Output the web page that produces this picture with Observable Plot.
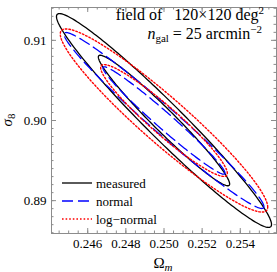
<!DOCTYPE html>
<html><head><meta charset="utf-8">
<script src="https://cdn.jsdelivr.net/npm/d3@7"></script>
<script src="https://cdn.jsdelivr.net/npm/@observablehq/plot@0.6"></script>
<style>body{margin:0;background:#fff}</style>
</head><body><div id="chart"></div>
<script>
// Contour parameters (Fisher-like ellipses)
const distributions = ["measured", "normal", "log-normal"];
const centerOm = [0.2500, 0.2500, 0.2500];
const centerS8 = [0.9000, 0.9000, 0.9000];
const sigmaOm = [0.00227, 0.00211, 0.00219];
const sigmaS8 = [0.00537, 0.00442, 0.00460];
const rho = [-0.972, -0.980, -0.945];
const levels = [2.30, 6.17]; // 68% and 95% contours
const colors = ["#000000", "#0000ff", "#ff0000"];
const dashes = [null, "11,5", "1.6,2"];
const widths = [1.3, 1.3, 1.4];
const xMajor = [0.246, 0.248, 0.250, 0.252, 0.254];
const yMajor = [0.89, 0.90, 0.91];
const xDomain = [0.2441, 0.2559];
const yDomain = [0.8859, 0.9141];

const xMinor = d3.range(0.2445, 0.2559, 0.0005);
const yMinor = d3.range(0.886, 0.9141, 0.001);

const pts = [];
distributions.forEach((name, i) => {
  levels.forEach((L, j) => {
    const k = Math.sqrt(L);
    for (let t = 0; t <= 240; t++) {
      const a = t / 240 * 2 * Math.PI;
      pts.push({
        key: name + j, dist: i,
        om: centerOm[i] + k * sigmaOm[i] * Math.cos(a),
        s8: centerS8[i] + k * sigmaS8[i] * (rho[i] * Math.cos(a) + Math.sqrt(1 - rho[i] * rho[i]) * Math.sin(a))
      });
    }
  });
});

const H = 226, W = 225, gray = "#8c8c8c";
const font = "Liberation Serif";

const marks = [Plot.frame({stroke: gray})];
const tk = (vals, len, dir) => dir === "x"
  ? [Plot.tickX(vals, {x: d => d, insetTop: H - len, stroke: gray}),
     Plot.tickX(vals, {x: d => d, insetBottom: H - len, stroke: gray})]
  : [Plot.tickY(vals, {y: d => d, insetRight: W - len, stroke: gray}),
     Plot.tickY(vals, {y: d => d, insetLeft: W - len, stroke: gray})];
marks.push(...tk(xMinor, 2.5, "x"), ...tk(xMajor, 5, "x"), ...tk(yMinor, 2.5, "y"), ...tk(yMajor, 5, "y"));
distributions.forEach((name, i) => {
  marks.push(Plot.line(pts.filter(p => p.dist === i), {
    x: "om", y: "s8", z: "key", stroke: colors[i], strokeWidth: widths[i],
    strokeDasharray: dashes[i], clip: "frame"
  }));
});
marks.push(Plot.axisX(xMajor, {tickSize: 0, tickPadding: 5, tickFormat: d3.format(".3f"), fontSize: 13, label: null}));
marks.push(Plot.axisY(yMajor, {tickSize: 0, tickPadding: 5, tickFormat: d3.format(".2f"), fontSize: 13, label: null}));

const svg = Plot.plot({
  width: 277, height: 272,
  marginLeft: 51, marginRight: 1, marginTop: 7, marginBottom: 39,
  x: {domain: xDomain}, y: {domain: yDomain},
  style: {fontFamily: font, fontSize: "13px", color: "#000", background: "#fff"},
  marks
});
document.getElementById("chart").appendChild(svg);

const NS = "http://www.w3.org/2000/svg";
function addText(parent, x, y, anchor, parts, transform, base = 13) {
  const t = document.createElementNS(NS, "text");
  t.setAttribute("x", x); t.setAttribute("y", y);
  t.setAttribute("text-anchor", anchor);
  t.setAttribute("font-family", font);
  t.setAttribute("font-size", base);
  t.style.fontSize = base + "px";
  t.style.textAnchor = anchor;
  t.style.whiteSpace = "pre";
  if (transform) t.setAttribute("transform", transform);
  for (const p of parts) {
    const sp = document.createElementNS(NS, "tspan");
    sp.textContent = p.text;
    sp.setAttribute("font-size", p.size || base);
    sp.style.fontSize = (p.size || base) + "px";
    if (p.italic) sp.setAttribute("font-style", "italic");
    if (p.dy) sp.setAttribute("dy", p.dy);
    t.appendChild(sp);
  }
  parent.appendChild(t);
  return t;
}
function addLine(parent, x1, x2, y, stroke, w, dash) {
  const l = document.createElementNS(NS, "line");
  l.setAttribute("x1", x1); l.setAttribute("x2", x2);
  l.setAttribute("y1", y); l.setAttribute("y2", y);
  l.setAttribute("stroke", stroke); l.setAttribute("stroke-width", w);
  if (dash) l.setAttribute("stroke-dasharray", dash);
  parent.appendChild(l);
}
// legend
distributions.forEach((name, i) => {
  const y = 183 + i * 18;
  addLine(svg, 62, 92, y, colors[i], widths[i], dashes[i]);
  addText(svg, 96, y + 4.5, "start", [{text: name === "log-normal" ? "log\u2212normal" : name}]);
});
// annotation
addText(svg, 264, 20, "end", [{text: "field of   120\u00d7120 deg"}, {text: "2", size: 11, dy: -6}], null, 16);
addText(svg, 262, 39, "end", [
  {text: "n", italic: true}, {text: "gal", size: 11, dy: 3},
  {text: " = 25 arcmin", dy: -3}, {text: "\u22122", size: 11, dy: -6}], null, 16);
// axis labels
addText(svg, 163, 268, "middle", [{text: "\u03a9", size: 15}, {text: "m", size: 11, italic: true, dy: 3}]);
addText(svg, 0, 0, "middle", [{text: "\u03c3", size: 15, italic: true}, {text: "8", size: 11, dy: 3}],
  "translate(12,120) rotate(-90)");
</script></body></html>
